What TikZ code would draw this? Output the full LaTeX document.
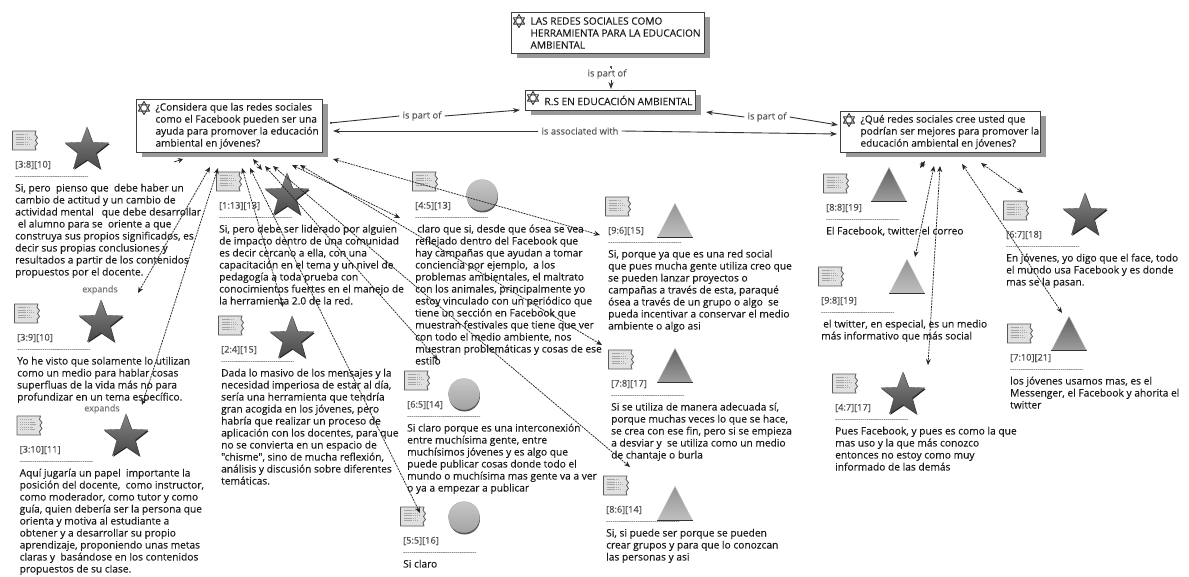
\documentclass[tikz,border=0pt]{standalone}
\usepackage{fontspec}
\setmainfont{Open Sans}[Ligatures=TeXOff,FakeBold=0.12]
\usetikzlibrary{arrows.meta,shapes.geometric,shadows}
\tikzset{
  bodytext/.style={inner sep=0pt,align=left,anchor=north west,text=black!90,font=\fontsize{10.2}{12}\selectfont},
  codetext/.style={inner sep=0pt,anchor=west,text=black!70,font=\fontsize{9.2}{12}\selectfont},
  ruletext/.style={inner sep=0pt,anchor=west,text=black!70,font=\fontsize{6.5}{8}\selectfont},
  linklabel/.style={inner sep=3pt,text=black!65,font=\fontsize{9.4}{10}\selectfont},
  expandlabel/.style={inner sep=0pt,text=black!55,font=\fontsize{9}{10}\selectfont},
  rootbox/.style={draw=black!75,line width=1pt,fill=white,inner sep=0pt,anchor=north west,
    general shadow={shadow xshift=5pt,shadow yshift=-5pt,fill=black!40}},
  starshape/.style={star,star points=5,star point ratio=2.4,minimum size=46pt,inner sep=0pt,
    draw=black!70,line width=.3pt,top color=black!48,bottom color=black!72,
    general shadow={shadow xshift=.8pt,shadow yshift=-1.2pt,fill=black!85}},
  ballshape/.style={circle,minimum size=31pt,inner sep=0pt,draw=black!30,line width=.3pt,
    top color=black!22,bottom color=black!36,
    general shadow={shadow xshift=.5pt,shadow yshift=-2pt,fill=black!65}},
  triangleshape/.style={isosceles triangle,shape border rotate=90,isosceles triangle stretches,
    minimum width=35pt,minimum height=34pt,inner sep=0pt,anchor=apex,draw=black!25,line width=.3pt},
  tridark/.style={top color=black!62,bottom color=black!38},
  trilight/.style={top color=black!42,bottom color=black!25},
  duallink/.style={{Stealth[length=6pt,width=5pt]}-{Stealth[length=6pt,width=5pt]},
    black!85,line width=.75pt,dash pattern=on 2pt off .9pt},
  headonly/.style={-{Stealth[length=5pt,width=5pt]},black!85,line width=.65pt},
  solidlink/.style={black!80,line width=.9pt},
  arrowend/.style={-{Stealth[length=7pt,width=5pt]}},
  dotstart/.style={{Circle[length=2pt]}-},
}
% document icon of a quotation, centred on the point #1,#2
\newcommand{\docicon}[2]{%
  \begin{scope}[shift={(#1,#2)}]
    \draw[fill=black!12,draw=black!65,line width=.8pt,line join=round]
      (-12.5,-9.5) -- (11,-9.5) -- (10,-6) -- (12.5,-3) -- (10.5,0) -- (12.5,3) -- (10,6) -- (11,9.5) -- (-12.5,9.5) -- cycle;
    \foreach \ly/\lx in {-6/2,-3.5/5,-1/6,1.5/3,4/5}
      \draw[black!35,line width=.8pt,dash pattern=on 1.3pt off .6pt] (-9.5,\ly) -- (\lx,\ly);
  \end{scope}}
% concept icon, centred on the point #1,#2
\newcommand{\concepticon}[2]{%
  \begin{scope}[shift={(#1,#2)}]
    \draw[black!80,line width=.9pt,line join=round] (0,-6.5) -- (5.6,3.2) -- (-5.6,3.2) -- cycle;
    \draw[black!80,line width=.9pt,line join=round] (0,6.5) -- (5.6,-3.2) -- (-5.6,-3.2) -- cycle;
    \draw[black!55,line width=.7pt] (0,0) circle (3.2);
  \end{scope}}
% quotation: name, left x, y of code line, code, body
\newcommand{\qblock}[5]{%
  \docicon{#2+10}{#3-24.5}
  \node[codetext] (#1-code) at (#2,#3) {#4};
  \node[ruletext] (#1-rule) at (#2,#3+12) {-----------------------------------};
  \node[bodytext] (#1-body) at (#2,#3+17.3) {\rule{0pt}{9pt}#5};}
% root box: name, x1, y1, x2, y2, indent, body
\newcommand{\rootnode}[7]{%
  \node[rootbox,minimum width=#4pt-#2pt,minimum height=#5pt-#3pt] (#1) at (#2,#3)
    {\hspace*{#6pt}\parbox{\dimexpr#4pt-#2pt-#6pt\relax}{\raggedright\fontsize{10.1}{12}\selectfont\color{black!90}#7}};}
\begin{document}
\begin{tikzpicture}[x=1pt,y=-1pt]
\useasboundingbox (0,0) rectangle (1189,577);
\fill[white] (0,0) rectangle (1189,577);

% quotation shapes
\node[starshape] (s38) at (87,150) {};
\node[starshape] (s39) at (101,323) {};
\node[starshape] (s310) at (126,437) {};
\node[starshape] (s113) at (287,196) {};
\node[starshape] (s24) at (292,339) {};
\node[ballshape] (s45) at (482,195) {};
\node[ballshape] (s65) at (464,394) {};
\node[ballshape] (s55) at (464,517) {};
\node[triangleshape,trilight] (s96) at (675,203) {};
\node[triangleshape,tridark] (s78) at (675,348) {};
\node[triangleshape,trilight] (s86) at (675,486) {};
\node[triangleshape,tridark] (s88) at (889,167) {};
\node[triangleshape,trilight] (s98) at (907,259) {};
\node[triangleshape,tridark] (s710) at (1069,316) {};
\node[starshape] (s67) at (1085,216) {};
\node[starshape] (s47) at (903,395) {};
\foreach \t in {s96,s78,s86,s88,s98,s710}
  \draw[black!80,line width=1.4pt] (\t.left corner) -- (\t.right corner);

% quotations
\qblock{q38}{15}{165}{[3:8][10]}{Si, pero~ pienso que~ debe haber un\\cambio de actitud y un cambio de\\actividad mental~~ que debe desarrollar\\~el alumno para se~ oriente a que\\construya sus propios significados, es\\decir sus propias conclusiones y\\resultados a partir de los contenidos\\propuestos por el docente.}
\qblock{q39}{17}{338}{[3:9][10]}{Yo he visto que solamente lo utilizan\\como un medio para hablar cosas\\superfluas de la vida más no para\\profundizar en un tema específico.}
\qblock{q310}{19.5}{450}{[3:10][11]}{Aquí jugaría un papel~ importante la\\posición del docente,~ como instructor,\\como moderador, como tutor y como\\guía, quien debería ser la persona que\\orienta y motiva al estudiante a\\obtener y a desarrollar su propio\\aprendizaje, proponiendo unas metas\\claras y~ basándose en los contenidos\\propuestos de su clase.}
\qblock{q113}{219}{206}{[1:13][13]}{Si, pero debe ser liderado por alguien\\de impacto dentro de una comunidad\\es decir cercano a ella, con una\\capacitación en el tema y un nivel de\\pedagogía a toda prueba con\\conocimientos fuertes en el manejo de\\la herramienta 2.0 de la red.}
\qblock{q24}{221}{350}{[2:4][15]}{Dada lo masivo de los mensajes y la\\necesidad imperiosa de estar al día,\\sería una herramienta que tendría\\gran acogida en los jóvenes, pero\\habría que realizar un proceso de\\aplicación con los docentes, para que\\no se convierta en un espacio de\\"chisme", sino de mucha reflexión,\\análisis y discusión sobre diferentes\\temáticas.}
\qblock{q45}{415}{206}{[4:5][13]}{\hspace*{2pt}claro que si, desde que ósea se vea\\reflejado dentro del Facebook que\\hay campañas que ayudan a tomar\\conciencia por ejemplo,~ a los\\problemas ambientales, el maltrato\\con los animales, principalmente yo\\estoy vinculado con un periódico que\\tiene un sección en Facebook que\\muestran festivales que tiene que ver\\con todo el medio ambiente, nos\\muestran problemáticas y cosas de ese\\estilo}
\qblock{q65}{407}{405}{[6:5][14]}{Si claro porque es una interconexión\\entre muchísima gente, entre\\muchísimos jóvenes y es algo que\\puede publicar cosas donde todo el\\mundo o muchísima mas gente va a ver\\o ya a empezar a publicar}
\qblock{q55}{403}{541}{[5:5][16]}{Si claro}
\qblock{q96}{608}{231}{[9:6][15]}{Si, porque ya que es una red social\\que pues mucha gente utiliza creo que\\se pueden lanzar proyectos o\\campañas a través de esta, paraqué\\ósea a través de un grupo o algo~ se\\pueda incentivar a conservar el medio\\ambiente o algo asi}
\qblock{q78}{611}{384}{[7:8][17]}{Si se utiliza de manera adecuada sí,\\porque muchas veces lo que se hace,\\se crea con ese fin, pero si se empieza\\a desviar y~ se utiliza como un medio\\de chantaje o burla}
\qblock{q86}{606}{510}{[8:6][14]}{Si, si puede ser porque se pueden\\crear grupos y para que lo conozcan\\las personas y asi}
\qblock{q88}{826}{208}{[8:8][19]}{El Facebook, twitter el correo}
\qblock{q98}{821}{301}{[9:8][19]}{\hspace*{2pt}el twitter, en especial, es un medio\\más informativo que más social}
\qblock{q47}{835}{408}{[4:7][17]}{Pues Facebook, y pues es como la que\\mas uso y la que más conozco\\entonces no estoy como muy\\informado de las demás}
\qblock{q67}{1006}{235}{[6:7][18]}{En jóvenes, yo digo que el face, todo\\el mundo usa Facebook y es donde\\mas se la pasan.}
\qblock{q710}{1010}{358}{[7:10][21]}{los jóvenes usamos mas, es el\\Messenger, el Facebook y ahorita el\\twitter}
\node[expandlabel] (exp1) at (100,290) {expands};
\node[expandlabel] (exp2) at (102,409) {expands};

% root boxes
\rootnode{top}{511}{12}{704}{53}{19}{LAS REDES SOCIALES COMO\\HERRAMIENTA PARA LA EDUCACION\\AMBIENTAL}
\rootnode{rs}{525}{90}{695}{110}{19}{R.S EN EDUCACIÓN AMBIENTAL}
\rootnode{qa}{136}{99}{322}{152}{19}{¿Considera que las redes sociales\\como el Facebook pueden ser una\\ayuda para promover la educación\\ambiental en jóvenes?}
\rootnode{qb}{840}{111}{1040}{152}{20}{¿Qué redes sociales cree usted que\\podrían ser mejores para promover la\\educación ambiental en jóvenes?}
\concepticon{519}{21}
\concepticon{533}{98}
\concepticon{144}{108}
\concepticon{849}{120}

% solid relations
\node[linklabel,inner sep=1pt] (l0) at (607,74) {is part of};
\node[linklabel] (l1) at (422,116) {is part of};
\node[linklabel] (l2) at (767,117) {is part of};
\node[linklabel] (l3) at (580,131) {is associated with};
\draw[solidlink,dotstart] ([shift={(100,12)}]top.south west) -- ([xshift=4pt]l0.north);
\draw[solidlink,arrowend] ([xshift=4pt]l0.south) -- ([shift={(86,-1)}]rs.north west);
\draw[solidlink,dotstart] ([shift={(194,-30)}]qa.south west) -- (l1.west);
\draw[solidlink,arrowend] (l1.east) -- ([shift={(-5,-1)}]rs.south west);
\draw[solidlink,arrowend] (l2.west) -- ([shift={(10,1)}]rs.south east);
\draw[solidlink,arrowend] (l2.east) -- ([shift={(-2,-28)}]qb.south west);
\draw[solidlink,arrowend] (l3.west) -- ([shift={(197,-22)}]qa.south west);
\draw[solidlink,arrowend] (l3.east) -- ([shift={(-3,-19)}]qb.south west);

% dashed links from the left question
\draw[duallink] ([shift={(74,14)}]qa.south west) -- ([shift={(37,-30)}]s39.center);
\draw[duallink] ([shift={(82,15)}]qa.south west) -- ([shift={(16,-32)}]s310.center);
\draw[headonly] ([shift={(38,9)}]qa.south west) -- ([shift={(47,6)}]qa.south west);
\draw[duallink] ([shift={(106,15)}]qa.south west) -- ([shift={(-9,-32)}]s24.center);
\draw[duallink] ([shift={(114,15)}]qa.south west) -- ([shift={(-44,-4)}]s55.center);
\draw[duallink] ([shift={(117,6)}]qa.south west) -- ([shift={(-25,-26)}]s113.center);
\draw[duallink] ([shift={(129,13)}]qa.south west) -- ([shift={(-26,-34)}]s65.center);
\draw[duallink] ([shift={(137,13)}]qa.south west) -- ([shift={(-45,-19)}]s86.apex);
\draw[duallink] ([shift={(156,12)}]qa.south west) -- ([shift={(-82,23)}]s45.center);
\draw[duallink] ([shift={(164,12)}]qa.south west) -- ([shift={(-73,-3)}]s78.apex);
\draw[duallink] ([shift={(197,6)}]qa.south west) -- ([shift={(-75,32)}]s96.apex);

% dashed links from the right question
\draw[duallink,line width=1pt] ([shift={(85,8)}]qb.south west) -- ([shift={(31,1)}]s88.apex);
\draw[duallink] ([shift={(94,13)}]qb.south west) -- ([shift={(8,-2)}]s98.apex);
\draw[duallink] ([shift={(100,13)}]qb.south west) -- ([shift={(25,-30)}]s47.center);
\draw[duallink] ([shift={(122,11)}]qb.south west) -- ([shift={(-7,-3)}]s710.apex);
\draw[duallink] ([shift={(141,10)}]qb.south west) -- ([shift={(-62,-23)}]s67.center);
\end{tikzpicture}
\end{document}
